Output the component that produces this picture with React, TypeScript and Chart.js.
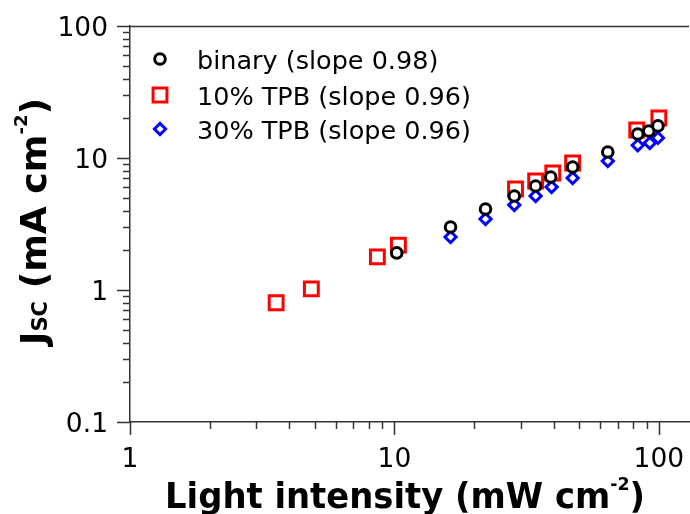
import React, { useEffect, useRef } from 'react';
import { Chart, registerables } from 'chart.js';

Chart.register(...registerables);

// ---- data ----
const binaryIntensity = [10.2, 16.3, 22.1, 28.4, 34.2, 39.0, 47.2, 64.1, 83.2, 91.6, 99.2];
const binaryJsc = [1.91, 3.0, 4.11, 5.15, 6.14, 7.18, 8.55, 11.1, 15.2, 16.0, 17.5];

const tpb10Intensity = [3.57, 4.85, 8.62, 10.35, 28.7, 34.2, 39.7, 47.2, 82.5, 100];
const tpb10Jsc = [0.8, 1.02, 1.78, 2.19, 5.82, 6.69, 7.7, 9.16, 16.3, 20.1];

const tpb30Intensity = [16.3, 22.1, 28.4, 34.2, 39.3, 47.2, 64.1, 83.2, 92.4, 99.2];
const tpb30Jsc = [2.52, 3.45, 4.41, 5.15, 6.03, 7.05, 9.49, 12.5, 13.0, 14.2];

const seriesLabels = ['binary (slope 0.98)', '10% TPB (slope 0.96)', '30% TPB (slope 0.96)'];

const xTickLabels = [1, 10, 100];
const yTickLabels = [0.1, 1, 10, 100];
const xRange = [1, 130];
const yRange = [0.1, 100];

const xTitleParts = [
  { t: 'Light intensity (mW cm', kind: 'n' },
  { t: '-2', kind: 'sup' },
  { t: ')', kind: 'n' },
];
const yTitleParts = [
  { t: 'J', kind: 'n' },
  { t: 'SC', kind: 'sub' },
  { t: ' (mA cm', kind: 'n' },
  { t: '-2', kind: 'sup' },
  { t: ')', kind: 'n' },
];

// ---- styles ----
const FAMILY = "'DejaVu Sans', Verdana, sans-serif";
const AXIS = '#333333';

function pts(xs: number[], ys: number[]) {
  return xs.map((x, i) => ({ x, y: ys[i] }));
}

function drawRich(ctx: CanvasRenderingContext2D, parts: { t: string; kind: string }[], size: number, targetW: number) {
  const fontFor = (k: string) => {
    const s = k === 'n' ? size : Math.round(size * (k === 'sub' ? 0.58 : 0.5));
    return `bold ${s}px ${FAMILY}`;
  };
  let total = 0;
  const widths: number[] = [];
  for (const p of parts) {
    ctx.font = fontFor(p.kind);
    const w = ctx.measureText(p.t).width;
    widths.push(w);
    total += w;
  }
  const sx = targetW / total;
  ctx.save();
  ctx.scale(sx, 1);
  let cx = 0;
  parts.forEach((p, i) => {
    ctx.font = fontFor(p.kind);
    const dy = p.kind === 'sup' ? -size * 0.52 : p.kind === 'sub' ? 1 : 0;
    ctx.fillText(p.t, cx, dy);
    cx += widths[i];
  });
  ctx.restore();
}

function drawMarker(ctx: CanvasRenderingContext2D, style: string, x: number, y: number, r: number) {
  ctx.beginPath();
  if (style === 'circle') {
    ctx.arc(x, y, r, 0, Math.PI * 2);
  } else if (style === 'rect') {
    const s = r * Math.SQRT1_2;
    ctx.rect(x - s, y - s, 2 * s, 2 * s);
  } else {
    ctx.moveTo(x - r, y);
    ctx.lineTo(x, y - r);
    ctx.lineTo(x + r, y);
    ctx.lineTo(x, y + r);
    ctx.closePath();
  }
  ctx.fill();
  ctx.stroke();
}

function mantissa(v: number) {
  const e = Math.floor(Math.log10(v) + 1e-9);
  return v / Math.pow(10, e);
}

const decorPlugin = {
  id: 'decor',
  afterDraw(chart: any) {
    const ctx: CanvasRenderingContext2D = chart.ctx;
    const { left, right, top, bottom } = chart.chartArea;
    const xs = chart.scales.x;
    const ys = chart.scales.y;
    ctx.save();
    ctx.strokeStyle = AXIS;
    ctx.lineWidth = 1.5;
    // top frame line
    ctx.beginPath();
    ctx.moveTo(left, top + 0.5);
    ctx.lineTo(right, top + 0.5);
    ctx.stroke();

    // tick marks
    const tickSet = (scale: any) =>
      scale.ticks
        .map((t: any) => t.value)
        .filter((v: number) => {
          const m = mantissa(v);
          return Math.abs(m - Math.round(m)) < 1e-6 && v >= scale.min - 1e-9 && v <= scale.max + 1e-9;
        });
    ctx.lineWidth = 1.5;
    for (const v of tickSet(xs)) {
      const px = Math.round(xs.getPixelForValue(v)) + 0.5;
      const major = Math.abs(mantissa(v) - 1) < 1e-6;
      ctx.beginPath();
      ctx.moveTo(px, bottom);
      ctx.lineTo(px, bottom + (major ? 13 : 7));
      ctx.stroke();
    }
    for (const v of tickSet(ys)) {
      const py = Math.round(ys.getPixelForValue(v)) + 0.5;
      const major = Math.abs(mantissa(v) - 1) < 1e-6;
      ctx.beginPath();
      ctx.moveTo(left, py);
      ctx.lineTo(left - (major ? 13 : 7), py);
      ctx.stroke();
    }

    // tick labels
    ctx.fillStyle = '#000';
    ctx.font = `26.5px ${FAMILY}`;
    ctx.textBaseline = 'alphabetic';
    ctx.textAlign = 'center';
    for (const v of xTickLabels) {
      ctx.fillText(String(v), xs.getPixelForValue(v), 467);
    }
    ctx.textAlign = 'right';
    for (const v of yTickLabels) {
      ctx.fillText(String(v), 108, ys.getPixelForValue(v) + 9.5);
    }

    // axis titles
    ctx.textAlign = 'left';
    ctx.save();
    ctx.translate(165, 508);
    drawRich(ctx, xTitleParts, 35, 480);
    ctx.restore();

    ctx.save();
    ctx.translate(46, 345);
    ctx.rotate(-Math.PI / 2);
    drawRich(ctx, yTitleParts, 36, 247);
    ctx.restore();

    // legend
    const rows = [59, 95, 129];
    chart.data.datasets.forEach((ds: any, i: number) => {
      ctx.save();
      ctx.strokeStyle = ds.borderColor;
      ctx.fillStyle = '#ffffff';
      ctx.lineWidth = ds.pointBorderWidth;
      drawMarker(ctx, ds.pointStyle, 160, rows[i], ds.pointRadius);
      ctx.restore();
      ctx.fillStyle = '#000';
      ctx.font = `25.5px ${FAMILY}`;
      ctx.textAlign = 'left';
      ctx.textBaseline = 'alphabetic';
      ctx.fillText(ds.label, 197, rows[i] + 10);
    });
    ctx.restore();
  },
};

export default function App() {
  const ref = useRef<HTMLCanvasElement | null>(null);
  useEffect(() => {
    document.body.style.margin = '0';
    const canvas = ref.current;
    if (!canvas) return;
    const chart = new Chart(canvas, {
      type: 'scatter',
      data: {
        datasets: [
          {
            label: seriesLabels[0],
            data: pts(binaryIntensity, binaryJsc),
            pointStyle: 'circle',
            pointRadius: 5.3,
            pointHoverRadius: 5.3,
            pointBorderWidth: 3,
            borderColor: '#000000',
            pointBorderColor: '#000000',
            pointBackgroundColor: '#ffffff',
            backgroundColor: '#ffffff',
          },
          {
            label: seriesLabels[1],
            data: pts(tpb10Intensity, tpb10Jsc),
            pointStyle: 'rect',
            pointRadius: 9.8,
            pointHoverRadius: 9.8,
            pointBorderWidth: 3,
            borderColor: '#ff0000',
            pointBorderColor: '#ff0000',
            pointBackgroundColor: '#ffffff',
            backgroundColor: '#ffffff',
          },
          {
            label: seriesLabels[2],
            data: pts(tpb30Intensity, tpb30Jsc),
            pointStyle: 'rectRot',
            pointRadius: 5.6,
            pointHoverRadius: 5.6,
            pointBorderWidth: 3,
            borderColor: '#0000ff',
            pointBorderColor: '#0000ff',
            pointBackgroundColor: '#ffffff',
            backgroundColor: '#ffffff',
          },
        ],
      },
      options: {
        animation: false,
        responsive: false,
        devicePixelRatio: 1,
        layout: { autoPadding: false, padding: { left: 0, right: 1, top: 26, bottom: 0 } },
        plugins: {
          legend: { display: false },
          tooltip: { enabled: false },
        },
        scales: {
          x: {
            type: 'logarithmic',
            min: xRange[0],
            max: xRange[1],
            grid: { display: false },
            border: { display: true, color: AXIS, width: 1.5 },
            ticks: { display: false },
            afterFit: (s: any) => {
              s.height = 92;
            },
          },
          y: {
            type: 'logarithmic',
            min: yRange[0],
            max: yRange[1],
            grid: { display: false },
            border: { display: true, color: AXIS, width: 1.5 },
            ticks: { display: false },
            afterFit: (s: any) => {
              s.width = 130;
            },
          },
        },
      } as any,
      plugins: [decorPlugin],
    });
    return () => chart.destroy();
  }, []);
  return <canvas ref={ref} width={690} height={514} style={{ display: 'block' }} />;
}
